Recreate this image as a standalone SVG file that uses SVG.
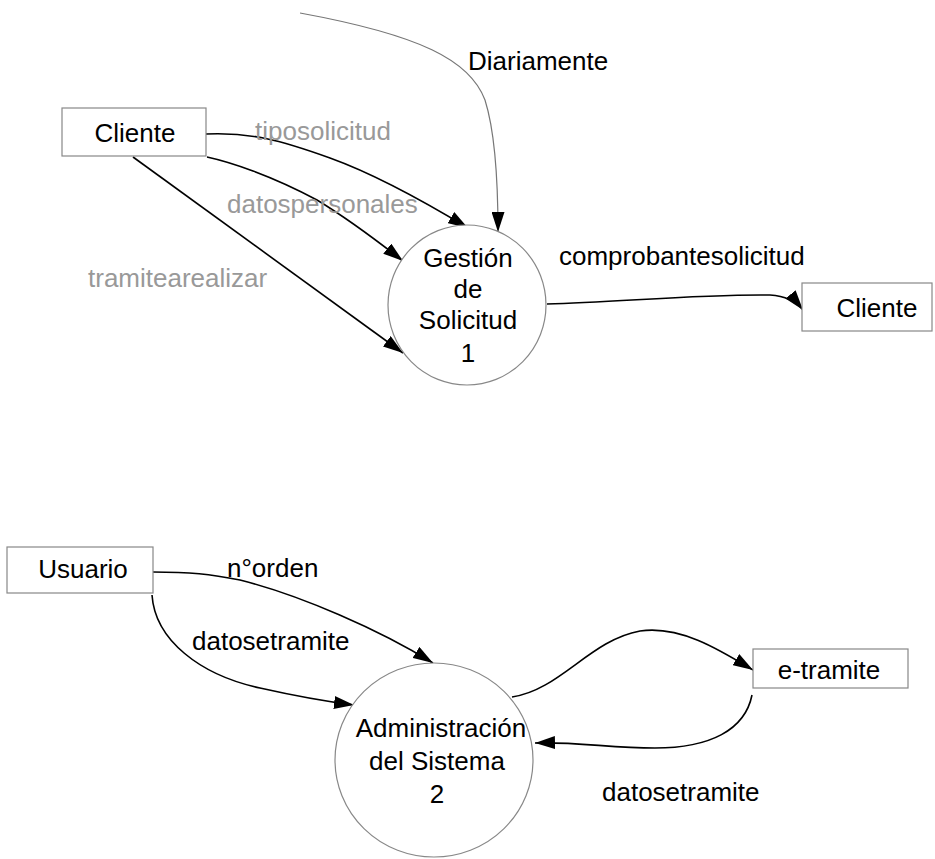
<svg xmlns="http://www.w3.org/2000/svg" width="935" height="859" viewBox="0 0 935 859">
<defs>
<marker id="ah" markerUnits="userSpaceOnUse" markerWidth="20" markerHeight="13" refX="20" refY="6.5" orient="auto">
<path d="M0,0 L20,6.5 L0,13 z" fill="#000"/>
</marker>
<style>
text{font-family:"Liberation Sans",Arial,sans-serif;font-size:26px;fill:#000}
.g{fill:#999}
.box{fill:#fff;stroke:#888;stroke-width:1.2}
.proc{fill:#fff;stroke:#888;stroke-width:1.2}
.c{fill:none;stroke:#000;stroke-width:1.6;marker-end:url(#ah)}
.t{fill:none;stroke:#777;stroke-width:1.2;marker-end:url(#ah)}
.m{text-anchor:middle}
</style>
</defs>
<rect width="935" height="859" fill="#fff"/>
<g id="connectors">
<path class="t" d="M300,13 C420,35 470,60 485,100 C496,135 498,190 498,232"/>
<path class="c" d="M206,134 C250,132 280,140 330,158 C380,176 430,205 468,228"/>
<path class="c" d="M207,157 C230,162 270,175 317,200 C350,220 380,243 403,261"/>
<path class="c" d="M133,157 L403,353"/>
<path class="c" d="M547,304 C620,302 700,294 770,295 C785,296 795,300 803,310"/>
<path class="c" d="M153,572 C190,572 210,574 240,580 C300,595 380,630 433,663"/>
<path class="c" d="M152,595 C155,640 200,675 260,688 C300,697 330,702 354,705"/>
<path class="c" d="M512,697 C560,690 590,640 640,631 C680,625 720,650 753,670"/>
<path class="c" d="M752,695 C745,730 710,748 655,748 C610,748 580,742 535,743"/>
</g>
<g id="labels">
<text x="468" y="70">Diariamente</text>
<text class="g" x="255" y="140">tiposolicitud</text>
<text class="g" x="227" y="213">datospersonales</text>
<text class="g" x="88" y="287">tramitearealizar</text>
<text x="559" y="265">comprobantesolicitud</text>
<text x="227" y="577">n°orden</text>
<text x="192" y="650">datosetramite</text>
<text x="602" y="801">datosetramite</text>
</g>
<g id="cliente1">
<rect class="box" x="62" y="108" width="144" height="48"/>
<text class="m" x="135" y="142">Cliente</text>
</g>
<g id="proceso1">
<ellipse class="proc" cx="467" cy="305" rx="79" ry="80"/>
<text class="m" x="468" y="267">Gestión</text>
<text class="m" x="468" y="298">de</text>
<text class="m" x="468" y="329">Solicitud</text>
<text class="m" x="468" y="362">1</text>
</g>
<g id="cliente2">
<rect class="box" x="802" y="283" width="130" height="48"/>
<text class="m" x="877" y="317">Cliente</text>
</g>
<g id="usuario">
<rect class="box" x="7" y="547" width="146" height="46"/>
<text class="m" x="83" y="578">Usuario</text>
</g>
<g id="proceso2">
<ellipse class="proc" cx="434" cy="760" rx="99" ry="97"/>
<text class="m" x="441" y="737">Administración</text>
<text class="m" x="437" y="770">del Sistema</text>
<text class="m" x="437" y="803">2</text>
</g>
<g id="etramite">
<rect class="box" x="753" y="649" width="155" height="39"/>
<text class="m" x="829" y="679">e-tramite</text>
</g>
</svg>
